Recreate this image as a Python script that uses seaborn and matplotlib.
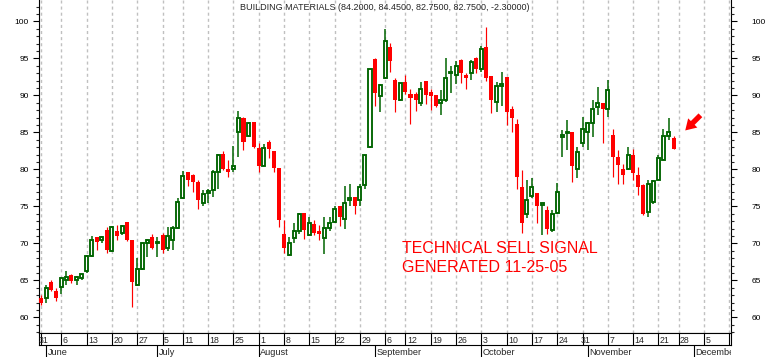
import numpy as np
import pandas as pd
import matplotlib
matplotlib.use("Agg")
import matplotlib.pyplot as plt
import seaborn as sns
from matplotlib.ticker import MultipleLocator, NullLocator
from matplotlib.patches import FancyArrowPatch

sns.set_style("white")
plt.rcParams['font.family'] = ['Liberation Sans', 'DejaVu Sans']

# ---- data (trading-day index 0 = May 31, 2005) ----
opens = [62.6, 62.6, 64.8, 63.6, 64.1, 65.0, 65.7, 65.1, 65.3, 66.3,
         68.3, 70.8, 70.5, 71.8, 69.0, 71.7, 71.4, 72.9, 70.4, 64.4,
         66.5, 70.0, 70.8, 70.0, 71.1, 69.4, 70.5, 72.1, 76.1, 79.6,
         79.2, 78.3, 75.5, 76.8, 77.2, 79.7, 82.1, 80.1, 80.1, 85.0,
         87.0, 84.5, 86.4, 82.9, 80.5, 83.7, 82.5, 80.2, 71.3, 68.4,
         70.7, 71.6, 74.1, 71.1, 72.6, 71.6, 70.7, 72.1, 72.9, 75.1,
         73.3, 75.9, 76.3, 75.9, 77.9, 83.0, 94.9, 89.9, 92.3, 96.5,
         92.1, 89.3, 91.8, 90.2, 90.2, 89.0, 92.0, 90.4, 90.0, 89.0,
         89.3, 93.0, 92.8, 94.8, 92.8, 93.05, 95.1, 93.6, 96.5, 92.6,
         89.1, 91.2, 92.5, 88.1, 86.1, 77.6, 74.0, 76.4, 76.8, 75.2,
         74.5, 71.8, 74.05, 84.3, 84.9, 85.1, 80.1, 83.6, 85.0, 86.2,
         88.4, 88.9, 88.2, 84.6, 81.6, 80.0, 80.0, 81.9, 79.2, 77.9,
         74.2, 75.6, 78.6, 81.3, 84.5, 84.2]
highs = [63.0, 64.4, 65.0, 64.0, 65.4, 66.2, 65.9, 65.6, 65.9, 68.4,
         71.0, 70.9, 71.0, 72.2, 72.3, 72.5, 72.5, 72.9, 70.5, 68.0,
         70.1, 70.6, 71.2, 70.9, 71.4, 72.2, 72.4, 76.1, 79.8, 79.7,
         79.3, 78.5, 77.2, 77.3, 79.9, 82.1, 82.5, 81.2, 83.2, 87.9,
         87.1, 86.4, 86.4, 83.5, 83.4, 84.0, 82.5, 80.2, 73.2, 70.9,
         72.8, 74.1, 74.1, 73.6, 73.2, 72.5, 73.5, 73.5, 75.0, 75.1,
         77.7, 78.0, 76.3, 78.0, 82.0, 93.6, 95.0, 91.5, 99.0, 97.1,
         92.3, 91.7, 92.7, 90.9, 90.5, 91.8, 92.0, 90.9, 90.1, 90.7,
         95.1, 93.9, 94.7, 94.9, 93.0, 94.8, 95.2, 96.6, 99.2, 92.6,
         91.8, 93.1, 92.5, 88.6, 86.8, 79.9, 78.5, 78.8, 76.8, 75.5,
         75.0, 74.5, 78.2, 85.3, 86.6, 85.1, 83.0, 87.1, 86.4, 89.4,
         91.1, 88.9, 92.1, 85.5, 82.6, 80.7, 83.0, 82.8, 80.3, 78.0,
         78.5, 78.6, 81.9, 85.5, 86.9, 84.45]
lows = [61.6, 61.9, 63.6, 62.2, 63.2, 64.4, 64.6, 64.4, 65.0, 66.0,
        68.2, 69.1, 70.0, 68.7, 68.8, 70.5, 71.1, 70.3, 61.4, 64.2,
        66.4, 68.2, 69.2, 68.2, 68.7, 69.0, 69.1, 71.9, 76.0, 77.8,
        77.0, 74.7, 75.0, 75.5, 76.2, 77.3, 79.9, 79.0, 79.7, 81.6,
        82.6, 84.3, 82.9, 79.7, 80.4, 81.5, 79.7, 72.2, 68.7, 68.3,
        70.1, 71.2, 70.6, 71.0, 71.1, 70.5, 68.5, 71.6, 72.8, 72.3,
        72.0, 75.1, 74.0, 75.0, 77.4, 82.9, 88.5, 87.7, 92.2, 93.2,
        87.8, 89.2, 90.2, 86.1, 87.9, 88.6, 88.8, 88.0, 88.4, 87.3,
        89.1, 90.3, 91.5, 91.6, 90.9, 92.1, 93.0, 93.2, 92.0, 87.6,
        87.8, 88.6, 86.0, 85.0, 77.4, 71.4, 73.4, 76.1, 72.8, 71.1,
        71.2, 71.5, 74.0, 81.6, 82.6, 78.3, 78.8, 83.0, 82.6, 84.4,
        87.4, 83.6, 87.1, 79.0, 78.0, 78.0, 79.9, 78.5, 76.5, 73.8,
        73.6, 75.3, 78.5, 81.3, 84.0, 82.75]
closes = [62.0, 64.0, 63.7, 62.6, 65.3, 65.5, 64.9, 65.4, 65.8, 68.3,
          70.5, 70.2, 70.9, 69.1, 72.2, 71.0, 72.3, 70.5, 64.8, 66.5,
          70.0, 70.5, 69.3, 70.2, 69.1, 71.0, 72.1, 75.6, 79.1, 78.5,
          78.3, 75.9, 76.7, 77.1, 79.7, 82.0, 80.0, 79.7, 80.5, 86.9,
          83.7, 86.3, 83.0, 80.5, 82.9, 82.8, 80.2, 73.2, 69.3, 70.0,
          71.6, 74.0, 71.8, 72.7, 71.4, 71.3, 72.1, 72.7, 74.7, 73.6,
          75.5, 76.1, 75.1, 77.6, 81.9, 93.5, 90.3, 91.4, 97.4, 94.6,
          89.3, 91.6, 90.5, 89.7, 89.4, 90.9, 90.0, 89.9, 88.6, 89.3,
          92.3, 93.2, 94.0, 93.0, 92.3, 94.5, 93.6, 96.2, 92.3, 89.4,
          91.3, 91.5, 87.8, 86.9, 78.9, 72.7, 75.8, 77.6, 75.0, 75.5,
          72.0, 74.0, 77.0, 84.7, 85.1, 80.4, 82.3, 85.5, 86.2, 88.2,
          89.0, 88.1, 90.7, 81.7, 80.6, 79.2, 81.9, 79.5, 77.6, 74.0,
          78.0, 78.4, 81.5, 84.5, 85.05, 82.75]

week_ticks = [0, 4, 9, 14, 19, 24, 28, 33, 38, 43, 48, 53, 58, 63, 68, 72, 77,
              82, 87, 92, 97, 102, 107, 112, 117, 122, 126, 131, 136]
week_labels = ["31", "6", "13", "20", "27", "5", "11", "18", "25", "1", "8",
               "15", "22", "29", "6", "12", "19", "26", "3", "10", "17", "24",
               "31", "7", "14", "21", "28", "5", "12"]
month_ticks = [1, 23, 43, 66, 87, 108, 129]
month_labels = ["June", "July", "August", "September", "October",
                "November", "December"]

title = "BUILDING MATERIALS (84.2000, 84.4500, 82.7500, 82.7500, -2.30000)"
signal_lines = ["TECHNICAL SELL SIGNAL", "GENERATED 11-25-05"]

df = pd.DataFrame({"idx": np.arange(len(opens)), "open": opens, "high": highs,
                   "low": lows, "close": closes})
df["up"] = df["close"] >= df["open"]

GREEN = "#006400"
RED = "#ff0000"
W, H = 770, 357

def fx(px):
    return px / W

def fy(py):
    return 1 - py / H

# pixel mapping: x_px = 41.1 + 5.06*i ; y_px = 21.3 + (100-p)*7.4
x_left, x_right = 38.5, 731.0
xlim = ((x_left - 41.1) / 5.06, (x_right - 41.1) / 5.06)
ylim = (100 - (333 - 21.3) / 7.4, 100 + 21.3 / 7.4)

fig = plt.figure(figsize=(W / 100, H / 100), dpi=100)
ax = fig.add_axes([fx(x_left), fy(333), fx(x_right) - fx(x_left), fy(0) - fy(333)])
ax.set_xlim(*xlim)
ax.set_ylim(*ylim)

for t in week_ticks:
    ax.axvline(t, color="#c0c0c0", lw=1.0, ls=(0, (2.2, 2.2)), zorder=0)

up = df[df["up"]]
dn = df[~df["up"]]
ax.vlines(up["idx"], up["low"], up["high"], color=GREEN, lw=1.1, zorder=2)
ax.vlines(dn["idx"], dn["low"], dn["high"], color=RED, lw=0.85, zorder=2)
ax.bar(up["idx"], (up["close"] - up["open"]).clip(lower=0.12), bottom=up["open"],
       width=0.6, facecolor="white", edgecolor=GREEN, linewidth=1.35, zorder=3)
ax.bar(dn["idx"], (dn["open"] - dn["close"]).clip(lower=0.15), bottom=dn["close"],
       width=0.8, color=RED, linewidth=0, zorder=3)

ax.yaxis.set_major_locator(MultipleLocator(5))
ax.yaxis.set_minor_locator(MultipleLocator(1))
ax.xaxis.set_major_locator(NullLocator())
ax.tick_params(axis="y", which="major", direction="out", length=4.3, width=0.8,
               labelsize=6, pad=2.9, colors="black")
ax.tick_params(axis="y", which="minor", direction="out", length=2.4, width=0.8)
ax.tick_params(axis="x", bottom=False, labelbottom=False)
for s in ["left", "right", "bottom"]:
    ax.spines[s].set_color("black")
    ax.spines[s].set_linewidth(0.8)
ax.spines["top"].set_visible(False)

ax2 = ax.twinx()
ax2.set_ylim(*ylim)
ax2.yaxis.set_major_locator(MultipleLocator(5))
ax2.yaxis.set_minor_locator(MultipleLocator(1))
ax2.tick_params(axis="y", which="major", direction="out", length=4.1, width=0.8,
                labelsize=6, pad=10.4, colors="black")
ax2.tick_params(axis="y", which="minor", direction="out", length=2.4, width=0.8)
for s in ax2.spines.values():
    s.set_visible(False)

# sell-signal arrow (pointing down-left)
arrow = FancyArrowPatch((130.3, 87.3), (127.3, 85.25),
                        arrowstyle="simple,head_length=0.9,head_width=1.1,tail_width=0.45",
                        mutation_scale=8.5, color=RED, lw=0, zorder=4,
                        shrinkA=0, shrinkB=0)
ax.add_patch(arrow)

# date strip
ax_d = fig.add_axes([fx(x_left), fy(345), fx(x_right) - fx(x_left), fy(333) - fy(345)])
ax_d.set_xlim(*xlim)
ax_d.set_ylim(0, 1)
ax_d.set_xticks([])
ax_d.set_yticks([])
for s in ax_d.spines.values():
    s.set_color("black")
    s.set_linewidth(0.8)
for t, lab in zip(week_ticks, week_labels):
    ax_d.axvline(t, color="black", lw=0.8)
    off = -0.42 if lab == "31" else 0.28
    ax_d.text(t + off, 0.14, lab, fontsize=6.3, ha="left", va="baseline",
              clip_on=True)

ax_m = fig.add_axes([fx(x_left), fy(357), fx(x_right) - fx(x_left), fy(345) - fy(357)])
ax_m.set_xlim(*xlim)
ax_m.set_ylim(0, 1)
ax_m.set_xticks([])
ax_m.set_yticks([])
for s in ax_m.spines.values():
    s.set_visible(False)
ax_m.patch.set_alpha(0)
for t, lab in zip(month_ticks, month_labels):
    ax_m.axvline(t, color="black", lw=0.8)
    ax_m.text(t + 0.3, 0.17, lab, fontsize=6.6, ha="left", va="baseline",
              clip_on=True)

fig.text(fx(385), fy(10), title, fontsize=6.5, ha="center", va="baseline")
fig.text(fx(401.5), fy(253.3), signal_lines[0], fontsize=11.5, color=RED,
         ha="left", va="baseline")
fig.text(fx(401.5), fy(271.7), signal_lines[1], fontsize=11.5, color=RED,
         ha="left", va="baseline")

fig.savefig("out.png", dpi=100, facecolor="white")
